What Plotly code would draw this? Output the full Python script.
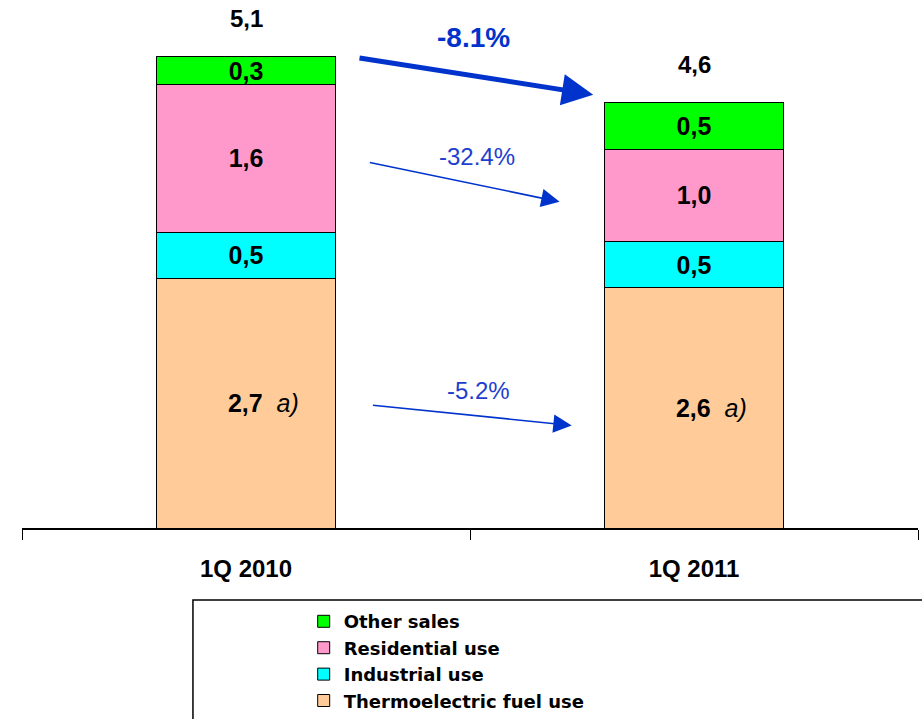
import plotly.graph_objects as go

categories = ["1Q 2010", "1Q 2011"]
series_names = ["Thermoelectric fuel use", "Industrial use", "Residential use", "Other sales"]
thermo = [2.7, 2.6]
industrial = [0.5, 0.5]
residential = [1.6, 1.0]
other = [0.3, 0.5]
totals = [5.1, 4.6]
changes = {"total": "-8.1%", "residential": "-32.4%", "thermo": "-5.2%"}

colors = ["#FFCC99", "#00FFFF", "#FF99CC", "#00FF00"]
FONT = "Liberation Sans, Arial, sans-serif"
LEGFONT = "DejaVu Sans, Liberation Sans, sans-serif"
NB = "&nbsp;"

def fmt(v):
    return f"{v:.1f}".replace(".", ",")

fig = go.Figure()
values = [thermo, industrial, residential, other]
for name, vals, col in zip(series_names, values, colors):
    if name == "Thermoelectric fuel use":
        txt = [f"{NB*5}<b>{fmt(v)}</b>{NB*2}<i>a)</i>" for v in vals]
    else:
        txt = [f"<b>{fmt(v)}</b>" for v in vals]
    fig.add_trace(go.Bar(
        x=categories, y=vals, name=f"<b>{name}</b>", text=txt, textposition="inside",
        insidetextanchor="middle", textangle=0, constraintext="none",
        textfont=dict(family=FONT, size=25, color="black"),
        marker=dict(color=col, line=dict(color="black", width=1)),
        width=0.40, hoverinfo="skip",
    ))

annotations = []
for i, t in enumerate(totals):
    annotations.append(dict(x=i, y=t, xref="x", yref="y", text=f"<b>{fmt(t)}</b>",
                            showarrow=False, yshift=38, font=dict(family=FONT, size=24, color="black")))

blue = "#0033CC"
arrow_defs = [
    (0.25, 5.09, 0.775, 4.69, 5, 1.25),
    (0.273, 3.96, 0.70, 3.53, 1.6, 2.3),
    (0.28, 1.33, 0.727, 1.11, 1.6, 2.3),
]
for x0, y0, x1, y1, w, s in arrow_defs:
    annotations.append(dict(x=x1, y=y1, ax=x0, ay=y0, xref="x", yref="y", axref="x", ayref="y",
                            showarrow=True, arrowhead=2, arrowsize=s, arrowwidth=w,
                            arrowcolor=blue, text=""))
annotations.append(dict(x=0.508, y=5.31, xref="x", yref="y", text=f"<b>{changes['total']}</b>",
                        showarrow=False, font=dict(family=FONT, size=28, color=blue)))
annotations.append(dict(x=0.515, y=4.02, xref="x", yref="y", text=changes["residential"],
                        showarrow=False, font=dict(family=FONT, size=24, color="#1E3FCC")))
annotations.append(dict(x=0.52, y=1.49, xref="x", yref="y", text=changes["thermo"],
                        showarrow=False, font=dict(family=FONT, size=24, color="#1E3FCC")))

fig.update_layout(
    width=922, height=719,
    margin=dict(l=22, r=4, t=10, b=191, autoexpand=False),
    plot_bgcolor="white", paper_bgcolor="white",
    barmode="stack",
    showlegend=True,
    legend=dict(traceorder="reversed", x=0.3144, xanchor="left", y=-0.145, yanchor="top",
                font=dict(family=LEGFONT, size=18, color="black"), bgcolor="rgba(0,0,0,0)",
                itemclick=False),
    annotations=annotations,
    shapes=[dict(type="rect", xref="paper", yref="paper", x0=0.1908, x1=1.02, y0=-0.139, y1=-0.42,
                 line=dict(color="black", width=1.5), fillcolor="rgba(0,0,0,0)")],
    xaxis=dict(showline=True, linecolor="black", linewidth=2, ticks="outside", tickson="boundaries",
               ticklen=10, tickcolor="black", tickwidth=1, ticklabelstandoff=18,
               tickfont=dict(family=FONT, size=24, color="black"), showgrid=False,
               tickprefix="<b>", ticksuffix="</b>"),
    yaxis=dict(range=[0, 518 / 92.4], visible=False, showgrid=False, zeroline=False),
)

fig.write_html("out.html", config={"displayModeBar": False},
               post_script="document.body.style.margin='0';document.body.style.overflow='hidden';")
